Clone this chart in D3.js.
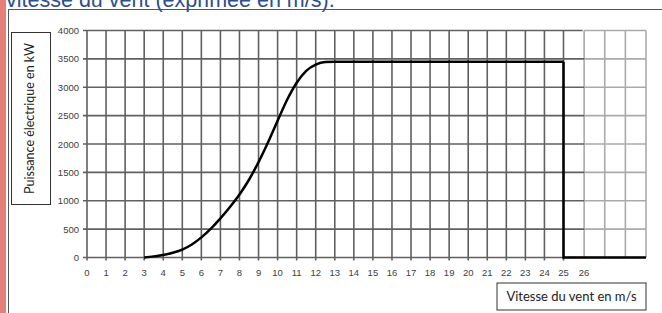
<!DOCTYPE html>
<html>
<head>
<meta charset="utf-8">
<script src="https://cdn.jsdelivr.net/npm/d3@7"></script>
<style>
  body { margin: 0; background: #fff; overflow: hidden; }
  svg { display: block; }
</style>
</head>
<body>
<div id="chart"></div>
<script>
// wind speed (m/s) -> electric power (kW)
var speeds = [3, 3.5, 4, 4.5, 5, 5.5, 6, 6.5, 7, 7.5, 8, 8.5, 9, 9.5, 10, 10.5, 11, 11.5, 12, 12.5, 13, 25];
var powers = [0, 20, 45, 85, 140, 230, 355, 510, 690, 890, 1110, 1370, 1680, 2030, 2410, 2780, 3080, 3290, 3400, 3445, 3450, 3450];
var cutoutSpeeds = [25, 25, 29];
var cutoutPowers = [3450, 0, 0];
var xTicks = d3.range(0, 27);
var yTicks = [0, 500, 1000, 1500, 2000, 2500, 3000, 3500, 4000];
var extraCols = [26, 27, 28, 29];

var width = 662, height = 313;

var svg = d3.select("#chart").append("svg")
  .attr("width", width)
  .attr("height", height);

// piecewise: the extra columns past 25 are a bit wider in the original
var x = d3.scaleLinear().domain([0, 25, 29]).range([87, 563.5, 646]);
var y = d3.scaleLinear().domain([0, 4000]).range([257.5, 30.5]);

// page decoration
svg.append("rect").attr("x", 0).attr("y", 0).attr("width", 6).attr("height", height)
  .style("fill", "#e58078");
svg.append("rect").attr("x", 8.5).attr("y", 9.5).attr("width", width).attr("height", height)
  .style("fill", "none").style("stroke", "#555").style("stroke-width", 1);
svg.append("text").attr("x", 6).attr("y", 7)
  .style("font-family", "'Liberation Sans', Arial, sans-serif")
  .style("font-size", "21.5px")
  .style("fill", "#2c4f8f")
  .text("vitesse du vent (exprimée en m/s).");

// light extension grid
var ext = svg.append("g").attr("class", "ext");
ext.selectAll("line.v").data(extraCols).enter().append("line")
  .attr("x1", d => x(d)).attr("x2", d => x(d))
  .attr("y1", y(4000)).attr("y2", y(0))
  .style("stroke", "#aaa").style("stroke-width", 1.6);
ext.selectAll("line.h").data(yTicks).enter().append("line")
  .attr("x1", x(26)).attr("x2", x(29))
  .attr("y1", d => y(d)).attr("y2", d => y(d))
  .style("stroke", "#aaa").style("stroke-width", 1.6);

// main grid
var grid = svg.append("g").attr("class", "grid");
grid.selectAll("line.v").data(d3.range(0, 26)).enter().append("line")
  .attr("x1", d => x(d)).attr("x2", d => x(d))
  .attr("y1", y(4000)).attr("y2", y(0) + 3)
  .style("stroke", "#606060").style("stroke-width", 1.6);
grid.selectAll("line.h").data(yTicks).enter().append("line")
  .attr("x1", x(0) - 4).attr("x2", d => d == 4000 ? x(26) - 1.5 : x(26))
  .attr("y1", d => y(d)).attr("y2", d => y(d))
  .style("stroke", "#606060").style("stroke-width", 1.6);

// axis labels
svg.append("g").selectAll("text").data(yTicks).enter().append("text")
  .attr("x", 79).attr("y", d => y(d) + 3.5)
  .attr("text-anchor", "end")
  .style("font-family", "'Liberation Sans', Arial, sans-serif")
  .style("font-size", "9.5px")
  .style("fill", "#404040")
  .text(d => d);

svg.append("g").selectAll("text").data(xTicks).enter().append("text")
  .attr("x", d => x(d)).attr("y", 276)
  .attr("text-anchor", "middle")
  .style("font-family", "'Liberation Sans', Arial, sans-serif")
  .style("font-size", "9.5px")
  .style("fill", "#404040")
  .text(d => d);

// power curve
var line = d3.line()
  .x(d => x(d[0]))
  .y(d => y(d[1]))
  .curve(d3.curveMonotoneX);

svg.append("path")
  .datum(d3.zip(speeds, powers))
  .attr("d", line)
  .style("fill", "none").style("stroke", "#000").style("stroke-width", 2.5);

svg.append("path")
  .datum(d3.zip(cutoutSpeeds, cutoutPowers))
  .attr("d", d3.line().x(d => x(d[0])).y(d => y(d[1])))
  .style("fill", "none").style("stroke", "#000").style("stroke-width", 2.5);

// axis title boxes
svg.append("rect").attr("x", 11.5).attr("y", 32.5).attr("width", 39).attr("height", 172)
  .style("fill", "#fff").style("stroke", "#333").style("stroke-width", 1);
svg.append("text")
  .attr("transform", "translate(34," + 118.5 + ") rotate(-90)")
  .attr("text-anchor", "middle")
  .style("font-family", "Lato, 'Liberation Sans', sans-serif")
  .style("font-size", "12.5px")
  .style("fill", "#222")
  .text("Puissance électrique en kW");

svg.append("rect").attr("x", 497).attr("y", 283).attr("width", 149).attr("height", 27)
  .style("fill", "#fff").style("stroke", "#333").style("stroke-width", 1);
svg.append("text")
  .attr("x", 571.5).attr("y", 301)
  .attr("text-anchor", "middle")
  .style("font-family", "Lato, 'Liberation Sans', sans-serif")
  .style("font-size", "13px")
  .style("fill", "#222")
  .text("Vitesse du vent en m/s");
</script>
</body>
</html>
